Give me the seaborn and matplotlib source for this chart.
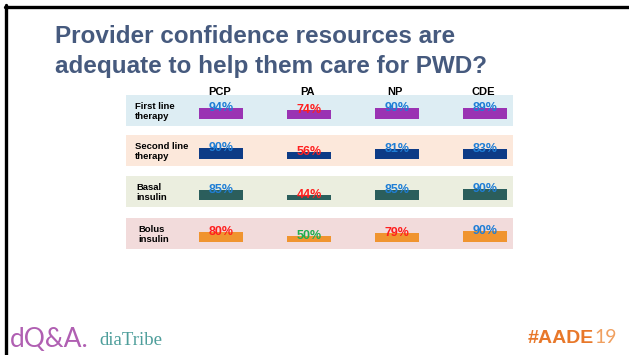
import matplotlib
matplotlib.use("Agg")
import matplotlib.pyplot as plt
from matplotlib.lines import Line2D
from matplotlib.transforms import blended_transform_factory
import seaborn as sns

# ---- data ----
providers = ["PCP", "PA", "NP", "CDE"]
row_labels = ["First line\ntherapy", "Second line\ntherapy", "Basal\ninsulin", "Bolus\ninsulin"]
first_line = [94, 74, 90, 89]
second_line = [90, 56, 81, 83]
basal = [85, 44, 85, 90]
bolus = [80, 50, 79, 90]
title_lines = ["Provider confidence resources are", "adequate to help them care for PWD?"]

rows = [first_line, second_line, basal, bolus]

# ---- styles ----
BLUE, RED, GREEN = "#1F7ED6", "#FF1F1F", "#1FAE4F"
label_colors = [
    [BLUE, RED, BLUE, BLUE],
    [BLUE, RED, BLUE, BLUE],
    [BLUE, RED, BLUE, BLUE],
    [RED, GREEN, RED, BLUE],
]
bar_colors = ["#9A33B3", "#0D3B86", "#2B5E5C", "#F0942F"]
band_colors = ["#DDEDF3", "#FCE8DB", "#EBEEDF", "#F2DBDB"]
band_tops = [95, 135, 176, 218]
label_x = [135, 135, 136, 138]

sns.set_style("white")
plt.rcParams["font.family"] = ["Liberation Sans", "DejaVu Sans"]

W, H = 629, 355
fig = plt.figure(figsize=(W / 100, H / 100), dpi=100)

def fx(px):
    return px / W

def fy(py):
    return 1 - py / H

left, right = 126, 513
band_h = 31
for r, vals in enumerate(rows):
    top = band_tops[r]
    ax = fig.add_axes([fx(left), fy(top + band_h), (right - left) / W, band_h / H])
    ax.set_facecolor(band_colors[r])
    sns.barplot(x=providers, y=vals, ax=ax, color=bar_colors[r], width=0.5,
                saturation=1, edgecolor="none")
    ax.set_xlim(-95 / 88, (right - left - 95) / 88)
    ax.set_ylim(-58, 200)
    for s in ax.spines.values():
        s.set_visible(False)
    ax.set_xticks([])
    ax.set_yticks([])
    ax.set_xlabel("")
    ax.set_ylabel("")
    for i, v in enumerate(vals):
        ax.text(i, v - 25, f"{v}%", ha="center", va="baseline", fontsize=9,
                fontweight="bold", color=label_colors[r][i])
    ax.text((label_x[r] - left) / (right - left), 0.47, row_labels[r],
            transform=ax.transAxes, ha="left", va="center", fontsize=6.8,
            fontweight="bold", color="black", linespacing=1.15)
    if r == 0:
        tr = blended_transform_factory(ax.transData, ax.transAxes)
        for i, p in enumerate(providers):
            ax.text(i - 0.02, 1.01, p, transform=tr, ha="center", va="baseline",
                    fontsize=8, fontweight="bold", color="black")

# title
fig.text(fx(55), fy(43), title_lines[0], fontsize=17.5, fontweight="bold",
         color="#465A7E", va="baseline", ha="left")
fig.text(fx(55), fy(73), title_lines[1], fontsize=17.5, fontweight="bold",
         color="#465A7E", va="baseline", ha="left")

# slide border
fig.add_artist(Line2D([fx(5), 1], [fy(6.5), fy(6.5)], color="black", lw=2.4,
                      transform=fig.transFigure))
fig.add_artist(Line2D([fx(6.5), fx(6.5)], [fy(5), 0], color="black", lw=2.4,
                      transform=fig.transFigure))

# footer logos
fig.text(fx(10), fy(347), "dQ&A.", fontsize=19, family=["Lato", "DejaVu Sans"],
         fontweight="normal", color="#B05FB2", va="baseline", ha="left")
fig.text(fx(99), fy(345), "diaTribe", fontsize=13.5, family=["Liberation Serif", "DejaVu Serif"],
         color="#4E9E9B", va="baseline", ha="left")
fig.text(fx(528), fy(343), "#AADE", fontsize=14, fontweight="bold",
         color="#E8782A", va="baseline", ha="left")
fig.text(fx(594), fy(343), "19", fontsize=14, family=["Lato", "DejaVu Sans"],
         fontweight="normal", color="#F0A060", va="baseline", ha="left")

fig.savefig("out.png", dpi=100)
